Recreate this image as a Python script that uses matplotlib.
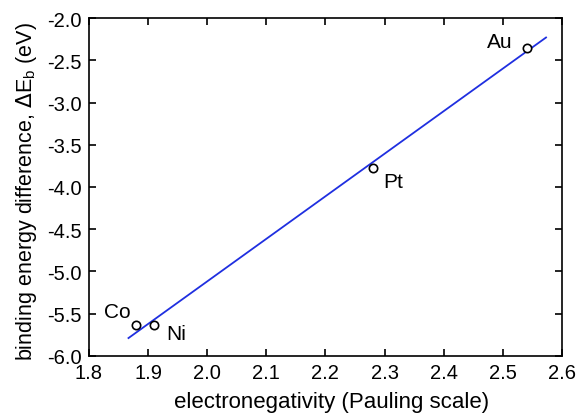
import numpy as np
import matplotlib.pyplot as plt

plt.rcParams['font.family'] = ['Liberation Sans', 'DejaVu Sans']

# data
metals = ["Co", "Ni", "Pt", "Au"]
electronegativity = [1.88, 1.91, 2.28, 2.54]
delta_eb = [-5.64, -5.63, -3.78, -2.35]
fit_range = [1.867, 2.573]

label_offsets = {"Co": (-0.032, 0.16), "Ni": (0.038, -0.10),
                 "Pt": (0.035, -0.15), "Au": (-0.045, 0.07)}

fig = plt.figure(figsize=(5.77, 4.14), dpi=100)
ax = fig.add_axes([0.154, 0.138, 0.82, 0.816])

slope, intercept = np.polyfit(electronegativity, delta_eb, 1)
xs = np.array(fit_range)
ax.plot(xs, slope * xs + intercept, color="#1f2fe0", linewidth=1.3)

ax.plot(electronegativity, delta_eb, "o", markerfacecolor="white",
        markeredgecolor="black", markersize=6, markeredgewidth=1.2)

for name, x, y in zip(metals, electronegativity, delta_eb):
    dx, dy = label_offsets[name]
    ax.text(x + dx, y + dy, name, fontsize=15, ha="center", va="center")

ax.set_xlim(1.8, 2.6)
ax.set_ylim(-6.0, -2.0)
ax.set_xticks(np.arange(1.8, 2.61, 0.1))
ax.set_yticks(np.arange(-6.0, -1.99, 0.5))
ax.xaxis.set_major_formatter(plt.FormatStrFormatter("%.1f"))
ax.yaxis.set_major_formatter(plt.FormatStrFormatter("%.1f"))
ax.tick_params(direction="in", top=True, right=True, labelsize=14.5,
               length=5, width=1.2, pad=5)
for spine in ax.spines.values():
    spine.set_linewidth(1.2)

ax.set_xlabel("electronegativity (Pauling scale)", fontsize=16)
ax.xaxis.set_label_coords(0.512, -0.103)
ax.set_ylabel("binding energy difference, $\\Delta$E$_\\mathregular{b}$ (eV)",
              fontsize=15.5)
ax.yaxis.set_label_coords(-0.106, 0.49)

fig.savefig("out.png", dpi=100)
